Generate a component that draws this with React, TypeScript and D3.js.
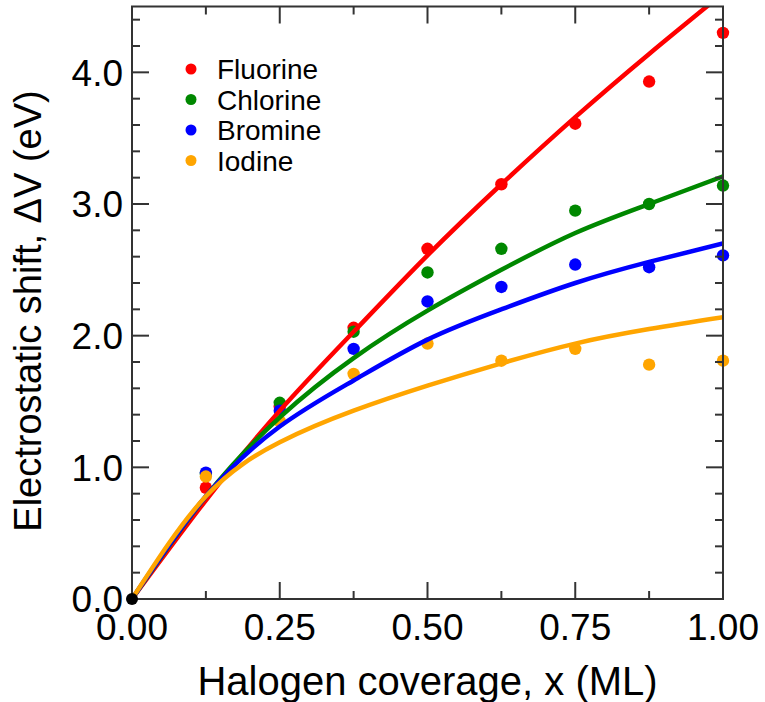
import React, { useEffect } from "react";
import * as d3 from "d3";

// coverage (ML) of the computed points
const coverage = [0.125, 0.25, 0.375, 0.5, 0.625, 0.75, 0.875, 1.0];

const fluorine = [0.845, 1.46, 2.06, 2.66, 3.15, 3.61, 3.93, 4.3];
const chlorine = [0.95, 1.49, 2.03, 2.48, 2.66, 2.95, 3.0, 3.14];
const bromine = [0.96, 1.43, 1.9, 2.26, 2.37, 2.54, 2.52, 2.61];
const iodine = [0.93, 1.35, 1.71, 1.94, 1.81, 1.9, 1.78, 1.81];

// fitted curves
const fitX = [0, 0.125, 0.25, 0.375, 0.5, 0.625, 0.75, 0.875, 1.0];
const fitF = [0, 0.75, 1.43, 2.03, 2.61, 3.15, 3.66, 4.14, 4.6];
const fitCl = [0, 0.78, 1.38, 1.83, 2.19, 2.5, 2.78, 3.0, 3.21];
const fitBr = [0, 0.78, 1.31, 1.66, 1.97, 2.2, 2.4, 2.56, 2.7];
const fitI = [0, 0.78, 1.19, 1.43, 1.62, 1.79, 1.94, 2.05, 2.14];

const names = ["Fluorine", "Chlorine", "Bromine", "Iodine"];
const colors = ["#ff0000", "#008800", "#0000ff", "#ffa500"];

const xTicks = [0, 0.25, 0.5, 0.75, 1.0];
const xMinor = [0.125, 0.375, 0.625, 0.875];
const yTicks = [0, 1, 2, 3, 4];

const W = 765;
const H = 702;
const margin = { top: 6.5, right: 42, bottom: 103, left: 132 };
const font = "'Liberation Sans', Arial, Helvetica, sans-serif";
const axisColor = "#333";

export default function App() {
  useEffect(() => {
    document.body.style.margin = "0";
  }, []);

  const x = d3.scaleLinear().domain([0, 1]).range([margin.left, W - margin.right]);
  const y = d3.scaleLinear().domain([0, 4.5]).range([H - margin.bottom, margin.top]);

  const points = [fluorine, chlorine, bromine, iodine];
  const fits = [fitF, fitCl, fitBr, fitI];

  const line = d3
    .line<[number, number]>()
    .x((d) => x(d[0]))
    .y((d) => y(d[1]))
    .curve(d3.curveNatural);

  const x0 = x(0), x1 = x(1), y0 = y(0), y1 = y(4.5);
  const yMinor = d3.range(0, 4.51, 0.2).map((v) => Math.round(v * 10) / 10).filter((v) => !yTicks.includes(v));

  return (
    <svg width={W} height={H} style={{ display: "block", position: "absolute", left: 0, top: 0 }}>
      <defs>
        <clipPath id="plot">
          <rect x={x0} y={y1} width={x1 - x0} height={y0 - y1} />
        </clipPath>
      </defs>

      {/* data points, under the fits */}
      {points.map((vals, i) =>
        vals.map((v, j) => (
          <circle key={`p${i}-${j}`} cx={x(coverage[j])} cy={y(v)} r={6.2} fill={colors[i]} />
        ))
      )}

      <g clipPath="url(#plot)">
        {fits.map((vals, i) => (
          <path
            key={`f${i}`}
            d={line(fitX.map((xv, k) => [xv, vals[k]] as [number, number])) || ""}
            fill="none"
            stroke={colors[i]}
            strokeWidth={4.5}
          />
        ))}
      </g>

      {/* frame and ticks */}
      <g stroke={axisColor} strokeWidth={2}>
        <rect x={x0} y={y1} width={x1 - x0} height={y0 - y1} fill="none" />
        {xTicks.map((t) => (
          <g key={`xt${t}`}>
            <line x1={x(t)} x2={x(t)} y1={y0} y2={y0 - 17} />
            <line x1={x(t)} x2={x(t)} y1={y1} y2={y1 + 17} />
          </g>
        ))}
        {xMinor.map((t) => (
          <g key={`xm${t}`}>
            <line x1={x(t)} x2={x(t)} y1={y0} y2={y0 - 8} />
            <line x1={x(t)} x2={x(t)} y1={y1} y2={y1 + 8} />
          </g>
        ))}
        {yTicks.map((t) => (
          <g key={`yt${t}`}>
            <line x1={x0} x2={x0 + 17} y1={y(t)} y2={y(t)} />
            <line x1={x1} x2={x1 - 17} y1={y(t)} y2={y(t)} />
          </g>
        ))}
        {yMinor.map((t) => (
          <g key={`ym${t}`}>
            <line x1={x0} x2={x0 + 8} y1={y(t)} y2={y(t)} />
            <line x1={x1} x2={x1 - 8} y1={y(t)} y2={y(t)} />
          </g>
        ))}
      </g>

      <circle cx={x(0)} cy={y(0)} r={6} fill="#000" />

      {/* tick labels */}
      <g fontFamily={font} fontSize={37} fill="#000">
        {xTicks.map((t) => (
          <text key={`xl${t}`} x={x(t)} y={y0 + 41} textAnchor="middle">
            {d3.format(".2f")(t)}
          </text>
        ))}
        {yTicks.map((t) => (
          <text key={`yl${t}`} x={x0 - 9} y={y(t)} dy="0.36em" textAnchor="end">
            {d3.format(".1f")(t)}
          </text>
        ))}
      </g>

      {/* axis titles */}
      <text x={(x0 + x1) / 2} y={695} textAnchor="middle" fontFamily={font} fontSize={40}>
        Halogen coverage, x (ML)
      </text>
      <text
        transform={`translate(41, 311) rotate(-90)`}
        textAnchor="middle"
        fontFamily={font}
        fontSize={38}
      >
        Electrostatic shift, ΔV (eV)
      </text>

      {/* legend */}
      <g fontFamily={font} fontSize={28}>
        {names.map((n, i) => (
          <g key={n} transform={`translate(191, ${69 + i * 30.5})`}>
            <circle r={5.5} fill={colors[i]} />
            <text x={26} dy="0.36em">
              {n}
            </text>
          </g>
        ))}
      </g>
    </svg>
  );
}
